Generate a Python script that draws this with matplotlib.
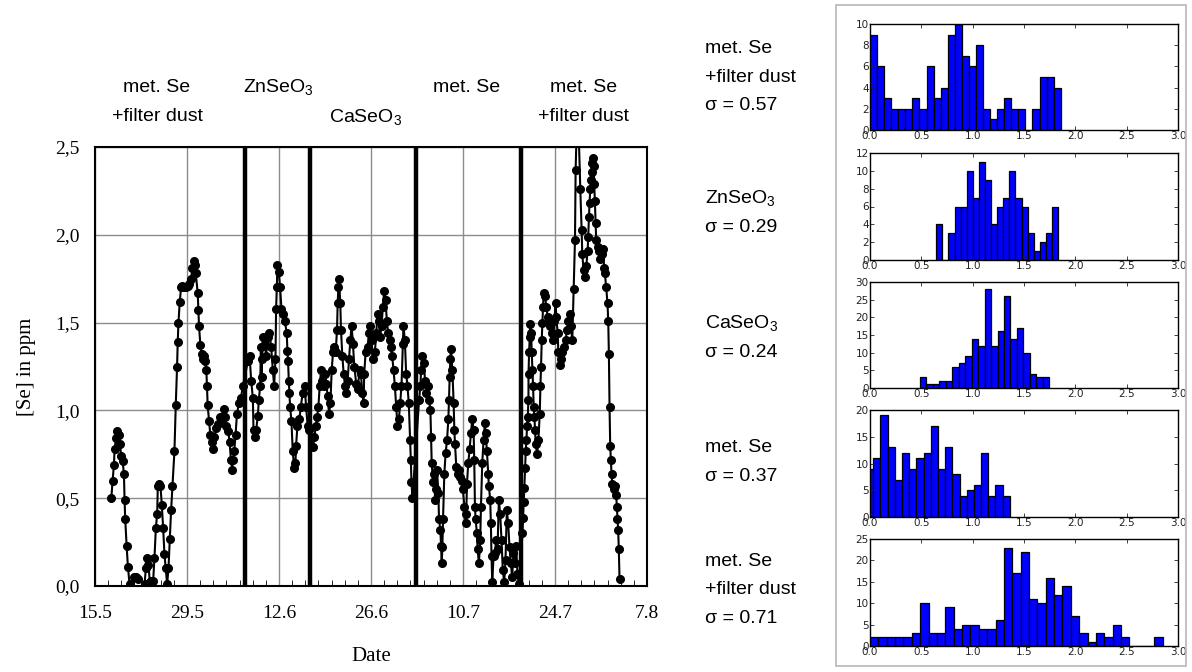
import numpy as np
import matplotlib
matplotlib.use('Agg')
import matplotlib.pyplot as plt
from matplotlib.patches import Rectangle

plt.rcParams['mathtext.fontset'] = 'custom'
plt.rcParams['mathtext.rm'] = 'Liberation Sans'
plt.rcParams['mathtext.it'] = 'Liberation Sans:italic'

# time series: days after 15.5, [Se] in ppm
days = [2.48, 2.68, 2.88, 2.98, 3.19, 3.39, 3.59, 3.79, 3.99, 4.20, 4.40, 4.50,
        4.60, 4.81, 5.01, 5.26, 5.87, 6.22, 6.52, 7.54, 7.74, 7.94, 8.14, 8.35,
        8.55, 8.85, 9.05, 9.26, 9.46, 9.56, 9.76, 9.96, 10.17, 10.37, 10.57,
        10.77, 10.98, 11.18, 11.38, 11.58, 11.79, 12.09, 12.29, 12.49, 12.59,
        12.70, 12.90, 13.10, 13.30, 13.61, 13.91, 14.11, 14.31, 14.62, 14.82,
        15.02, 15.23, 15.33, 15.63, 15.73, 15.83, 16.04, 16.24, 16.44,
        16.54, 16.74, 16.94, 17.04, 17.14, 17.35, 17.55, 17.75, 17.95, 18.16,
        18.46, 18.76, 19.07, 19.37, 19.57, 19.77, 19.98, 20.28, 20.48, 20.68,
        20.89, 20.99, 21.19, 21.39, 21.60, 21.90, 22.20, 22.51,
        23.26, 23.52, 23.77, 24.02, 24.12, 24.28, 24.53, 24.78, 24.93, 25.14,
        25.24, 25.34, 25.44, 25.54, 25.84, 26.05, 26.25, 26.55, 26.81, 27.06,
        27.26, 27.46, 27.56, 27.67, 27.77, 27.97, 28.17, 28.37, 28.58, 28.88,
        29.18, 29.28, 29.38, 29.49, 29.59, 29.69, 29.89, 30.09, 30.30, 30.50,
        30.60, 30.80, 31.10, 31.31, 31.61, 31.91, 32.12, 32.37, 32.58,
        33.18, 33.39, 33.59, 33.79, 33.99, 34.20, 34.40, 34.60, 34.80, 35.01,
        35.21, 35.41, 35.61, 35.82, 36.02, 36.22, 36.42, 36.62, 36.83, 36.93,
        37.03, 37.13, 37.33, 37.43, 37.64, 37.84, 38.04, 38.24, 38.45, 38.65,
        38.85, 39.05, 39.25, 39.46, 39.76, 39.96, 40.27, 40.47, 40.67, 40.87,
        40.97, 41.18, 41.48, 41.68, 41.89, 42.09, 42.29, 42.59, 42.80, 43.00,
        43.20, 43.40, 43.60, 43.81, 44.01, 44.21, 44.41, 44.62, 44.82, 45.02,
        45.22, 45.43, 45.63, 45.83, 46.03, 46.24, 46.44, 46.64, 46.84, 46.94,
        47.15, 47.35, 47.55, 47.75, 47.96, 48.06, 48.16, 48.31,
        49.32, 49.52, 49.62, 49.82, 50.03, 50.23, 50.43, 50.63, 50.83, 51.04,
        51.14, 51.24, 51.44, 51.64, 51.75, 51.85, 52.05, 52.25, 52.35, 52.55,
        52.66, 52.76, 52.86, 52.96, 53.16, 53.36, 53.57, 53.77, 53.87, 53.97,
        54.07, 54.17, 54.38, 54.58, 54.68, 54.78, 54.98, 55.18, 55.39, 55.59,
        55.79, 55.99, 56.20, 56.40, 56.50, 56.60, 56.80, 57.01, 57.21, 57.41,
        57.61, 57.71, 57.82, 57.92, 58.12, 58.22, 58.42, 58.62, 58.73, 58.93,
        59.13, 59.33, 59.43, 59.64, 59.84, 59.94, 60.14, 60.24, 60.34, 60.45,
        60.65, 60.85, 61.05, 61.25, 61.46, 61.66, 61.86, 62.06, 62.27, 62.47,
        62.67, 62.87, 63.08, 63.28, 63.48, 63.68, 63.89, 64.09, 64.29, 64.49,
        65.05, 65.15, 65.25, 65.35, 65.45, 65.55, 65.65, 65.75, 65.85, 65.96,
        65.97, 66.06, 66.16, 66.26, 66.36, 66.46, 66.56, 66.66, 66.76, 66.87,
        66.97, 67.07, 67.27, 67.47, 67.68, 67.78, 67.88, 67.98, 68.08, 68.18,
        68.28, 68.48, 68.69, 68.89, 69.09, 69.29, 69.50, 69.70, 69.90, 70.10,
        70.20, 70.41, 70.51, 70.71, 70.91, 71.11, 71.32, 71.62, 71.82, 72.03,
        72.23, 72.43, 72.63, 72.83, 73.04, 73.14, 73.44, 73.85, 74.05, 74.15,
        74.35, 74.55, 74.76, 74.96, 75.06, 75.16, 75.26, 75.36, 75.47, 75.57,
        75.67, 75.77, 75.87, 75.97, 76.07, 76.17, 76.27, 76.48, 76.68, 76.88,
        77.08, 77.29, 77.49, 77.59, 77.79, 77.99, 78.10, 78.20, 78.30, 78.40,
        78.50, 78.60, 78.70, 78.91, 79.11, 79.31, 79.41, 79.51, 79.61, 79.71,
        79.82]
se = [0.50, 0.60, 0.69, 0.78, 0.84, 0.88, 0.86, 0.81, 0.74, 0.71, 0.64, 0.49,
      0.38, 0.23, 0.11, 0.01, 0.05, 0.05, 0.04, 0.01, 0.10, 0.16, 0.12, 0.02,
      0.03, 0.03, 0.16, 0.33, 0.41, 0.57, 0.58, 0.57, 0.46, 0.33, 0.18,
      0.10, 0.01, 0.10, 0.27, 0.43, 0.57, 0.77, 1.03, 1.25, 1.39,
      1.50, 1.62, 1.70, 1.71, 1.70, 1.70, 1.71, 1.72, 1.75, 1.81,
      1.85, 1.83, 1.78, 1.67, 1.57, 1.48, 1.37, 1.32, 1.29,
      1.31, 1.28, 1.23, 1.14, 1.03, 0.94, 0.86, 0.82, 0.78, 0.85,
      0.90, 0.92, 0.96, 0.95, 1.01, 0.96, 0.91, 0.88, 0.82, 0.72,
      0.66, 0.72, 0.77, 0.86, 0.98, 1.04, 1.07, 1.14,
      1.28, 1.31, 1.17, 1.07, 0.89, 0.85, 0.89, 0.97, 1.06, 1.14,
      1.36, 1.19, 1.29, 1.42, 1.38, 1.31, 1.42, 1.44, 1.36, 1.23,
      1.14, 1.29, 1.58, 1.70, 1.83, 1.79, 1.70, 1.58, 1.55, 1.51,
      1.44, 1.34, 1.28, 1.17, 1.10, 1.02, 0.94, 0.77, 0.67, 0.70,
      0.80, 0.91, 0.95, 1.02, 1.10, 1.14, 1.02, 0.91, 0.89,
      0.79, 0.85, 0.91, 0.96, 1.02, 1.14, 1.23, 1.17, 1.14, 1.21,
      1.15, 1.08, 0.98, 1.04, 1.23, 1.33, 1.36, 1.33, 1.46, 1.61,
      1.70, 1.75, 1.61, 1.46, 1.31, 1.21, 1.14, 1.10, 1.17, 1.29,
      1.40, 1.48, 1.38, 1.25, 1.15, 1.12, 1.23, 1.21, 1.10, 1.04,
      1.21, 1.33, 1.36, 1.44, 1.48, 1.40, 1.29, 1.33, 1.44, 1.55,
      1.51, 1.42, 1.48, 1.59, 1.68, 1.63, 1.51, 1.44, 1.40, 1.36,
      1.31, 1.23, 1.14, 1.02, 0.91, 0.95, 1.04, 1.14, 1.38, 1.48,
      1.40, 1.21, 1.14, 1.04, 0.83, 0.72, 0.59, 0.50,
      1.06, 1.14, 1.23, 1.31, 1.27, 1.17, 1.10, 1.14, 1.06, 1.00,
      0.85, 0.70, 0.59, 0.64, 0.49, 0.55, 0.66, 0.53, 0.38, 0.32,
      0.23, 0.13, 0.22, 0.38, 0.64, 0.76, 0.83, 0.95, 1.06, 1.19,
      1.29, 1.35, 1.23, 1.04, 0.89, 0.81, 0.68, 0.64, 0.66, 0.62,
      0.60, 0.55, 0.45, 0.36, 0.41, 0.58, 0.70, 0.78, 0.87, 0.95,
      0.89, 0.72, 0.45, 0.38, 0.30, 0.21, 0.13, 0.26, 0.45, 0.70,
      0.83, 0.93, 0.87, 0.77, 0.64, 0.57, 0.49, 0.36, 0.17, 0.02,
      0.17, 0.19, 0.26, 0.21, 0.49, 0.41, 0.26, 0.09, 0.02, 0.15,
      0.43, 0.36, 0.22, 0.13, 0.05, 0.19, 0.13, 0.23, 0.07, 0.01,
      0.30, 0.39, 0.48, 0.56, 0.67, 0.77, 0.83, 0.91, 0.96, 1.06,
      1.21, 1.33, 1.42, 1.49, 1.44, 1.33, 1.23, 1.14, 1.02, 0.96,
      0.89, 0.81, 0.75, 0.83, 0.98, 1.14, 1.25, 1.40, 1.50, 1.59,
      1.67, 1.65, 1.59, 1.53, 1.50, 1.48, 1.44, 1.40, 1.51, 1.61,
      1.53, 1.44, 1.33, 1.26, 1.29, 1.33, 1.36, 1.40, 1.46, 1.51,
      1.55, 1.48, 1.40, 1.69, 1.97, 2.37, 2.80, 2.26, 2.03, 1.89,
      1.80, 1.76, 1.82, 1.91, 1.99, 2.10, 2.18, 2.26, 2.31, 2.36,
      2.41, 2.44, 2.39, 2.29, 2.19, 2.07, 1.97, 1.93, 1.91, 1.86,
      1.89, 1.92, 1.81, 1.78, 1.70, 1.61, 1.51, 1.32, 1.02, 0.80,
      0.72, 0.64, 0.58, 0.55, 0.57, 0.52, 0.45, 0.38, 0.32, 0.21,
      0.04]

# days where the Se source was changed
changes = [22.8, 32.7, 48.9, 64.8]
date_ticks = [0, 14, 28, 42, 56, 70, 84]
date_labels = ['15.5', '29.5', '12.6', '26.6', '10.7', '24.7', '7.8']
y_ticks = [0.0, 0.5, 1.0, 1.5, 2.0, 2.5]
y_labels = ['0,0', '0,5', '1,0', '1,5', '2,0', '2,5']

# histograms: first bin edge, bin width, counts
hist_start = [0.0, 0.645, 0.486, -0.038, 0.0]
hist_width = [0.0688, 0.0594, 0.063, 0.07, 0.0815]
hist_counts = [
    [9, 6, 3, 2, 2, 2, 3, 2, 6, 3, 4, 9, 10, 7, 6, 8, 2, 1, 2, 3, 2, 2, 0, 2, 5, 5, 4],
    [4, 0, 3, 6, 6, 10, 7, 11, 9, 4, 6, 7, 10, 7, 6, 3, 1, 2, 3, 6],
    [3, 1, 1, 2, 2, 6, 7, 9, 14, 12, 28, 12, 16, 26, 14, 17, 10, 4, 3, 3],
    [9, 11, 19, 13, 7, 12, 9, 11, 12, 17, 9, 13, 8, 4, 5, 6, 12, 4, 6, 4],
    [2, 2, 2, 2, 2, 3, 10, 3, 3, 9, 4, 5, 5, 4, 4, 6, 23, 17, 22, 11, 10, 16,
     12, 14, 7, 3, 1, 3, 2, 5, 2, 0, 0, 0, 2],
]
hist_ymax = [10, 12, 30, 20, 25]
hist_ystep = [2, 2, 5, 5, 5]
hist_names = ['met. Se\n+filter dust\n\u03c3 = 0.57', 'ZnSeO$_3$\n\u03c3 = 0.29',
              'CaSeO$_3$\n\u03c3 = 0.24', 'met. Se\n\u03c3 = 0.37',
              'met. Se\n+filter dust\n\u03c3 = 0.71']

W, H = 1192, 672
fig = plt.figure(figsize=(W / 100, H / 100), dpi=100)


def fbox(l, t, r, b):
    return [l / W, 1 - b / H, (r - l) / W, (b - t) / H]


serif = 'Liberation Serif'
sans = 'Liberation Sans'

# main time series
ax = fig.add_axes(fbox(95, 147, 647, 586))
ax.plot(days, se, '-o', color='black', lw=1.5, ms=5.5, clip_on=True)
for d in changes:
    ax.axvline(d, color='black', lw=3.2, zorder=3)
ax.set_xlim(0, 84)
ax.set_ylim(0, 2.5)
ax.set_xticks(date_ticks)
ax.set_xticklabels(date_labels, family=serif, fontsize=14)
ax.set_xticks(np.arange(0, 85, 2), minor=True)
ax.set_yticks(y_ticks)
ax.set_yticklabels(y_labels, family=serif, fontsize=14)
ax.grid(True, which='major', color='#8c8c8c', lw=1)
ax.tick_params(axis='x', which='major', direction='in', length=0, pad=14)
ax.tick_params(axis='y', which='major', direction='in', length=0, pad=11)
ax.tick_params(which='minor', direction='in', length=4, bottom=True)
for s in ax.spines.values():
    s.set_linewidth(1.5)
ax.set_ylabel('[Se] in ppm', family=serif, fontsize=15, labelpad=14)
ax.set_xlabel('Date', family=serif, fontsize=15, labelpad=18)


# sample labels above the main chart
def ftext(x, y, s, **kw):
    fig.text(x / W, 1 - y / H, s, family=sans, fontsize=14, ha='center',
             va='center', **kw)


ftext(157, 102, 'met. Se\n+filter dust', linespacing=1.85)
ftext(278, 87, 'ZnSeO$_3$')
ftext(366, 117, 'CaSeO$_3$')
ftext(467, 87, 'met. Se')
ftext(584, 102, 'met. Se\n+filter dust', linespacing=1.85)

# histogram panel with light border
fig.patches.append(Rectangle((836 / W, 1 - 666 / H), 350 / W, 661 / H,
                             transform=fig.transFigure, fill=False,
                             edgecolor='#b8b8b8', lw=1.2))

hist_rows = [(24, 130), (153, 260), (282, 388), (410, 517), (539, 646)]
label_y = [77, 212, 337, 462, 590]
for i in range(5):
    t, b = hist_rows[i]
    hx = fig.add_axes(fbox(870, t, 1178, b))
    n = len(hist_counts[i])
    lefts = hist_start[i] + hist_width[i] * np.arange(n)
    hx.bar(lefts, hist_counts[i], width=hist_width[i], align='edge',
           color='#0000ff', edgecolor='black', lw=0.9)
    hx.set_xlim(0, 3)
    hx.set_ylim(0, hist_ymax[i])
    hx.set_xticks(np.arange(0, 3.01, 0.5))
    hx.set_yticks(np.arange(0, hist_ymax[i] + 0.1, hist_ystep[i]))
    hx.xaxis.set_major_formatter(plt.FormatStrFormatter('%.1f'))
    hx.tick_params(direction='in', length=3, width=0.6, top=True, right=True,
                   labelsize=7.5, pad=1, colors='#222222')
    for s in hx.spines.values():
        s.set_linewidth(1.0)
    fig.text(705 / W, 1 - label_y[i] / H, hist_names[i], family=sans,
             fontsize=14, ha='left', va='center', linespacing=1.85)

fig.savefig('out.png', dpi=100)
